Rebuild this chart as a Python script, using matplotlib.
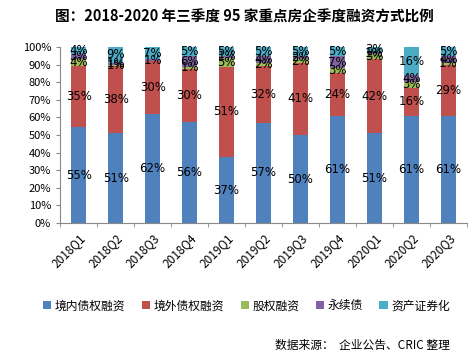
import numpy as np
import matplotlib
matplotlib.use("Agg")
import matplotlib.pyplot as plt

plt.rcParams["font.family"] = ["Noto Sans CJK SC", "DejaVu Sans"]

quarters = ["2018Q1", "2018Q2", "2018Q3", "2018Q4", "2019Q1", "2019Q2",
            "2019Q3", "2019Q4", "2020Q1", "2020Q2", "2020Q3"]
domestic = [55, 51, 62, 56, 37, 57, 50, 61, 51, 61, 61]
overseas = [35, 38, 30, 30, 51, 32, 41, 24, 42, 16, 29]
equity = [4, 1, 0, 1, 5, 2, 2, 3, 3, 3, 1]
perpetual = [3, 1, 1, 6, 1, 4, 2, 7, 1, 4, 4]
abs_sec = [4, 9, 7, 5, 5, 5, 5, 5, 3, 16, 5]
series_names = ["境内债权融资", "境外债权融资", "股权融资", "永续债", "资产证券化"]
COLORS = ["#4F81BD", "#C0504D", "#9BBB59", "#8064A2", "#4BACC6"]

data = np.array([domestic, overseas, equity, perpetual, abs_sec], dtype=float)
heights = data / data.sum(axis=0) * 100

fig = plt.figure(figsize=(4.74, 3.62), dpi=100)
ax = fig.add_axes([0.127, 0.384, 0.858, 0.486])
x = np.arange(len(quarters))
bottom = np.zeros(len(quarters))
for i, name in enumerate(series_names):
    ax.bar(x, heights[i], 0.4, bottom=bottom, color=COLORS[i], label=name)
    for j in range(len(quarters)):
        if data[i, j] > 0:
            ax.text(x[j], bottom[j] + heights[i, j] / 2, f"{int(data[i, j])}%",
                    ha="center", va="center", fontsize=8.5, color="black",
                    family=["DejaVu Sans"])
    bottom += heights[i]

ax.set_xlim(-0.5, len(quarters) - 0.5)
ax.set_ylim(0, 100)
ax.set_yticks(np.arange(0, 101, 10))
ax.set_yticklabels([f"{v}%" for v in range(0, 101, 10)], fontsize=8)
ax.set_xticks(x)
ax.set_xticks(np.arange(-0.5, len(quarters), 1), minor=True)
ax.set_xticklabels(quarters, rotation=45, ha="right", rotation_mode="anchor", fontsize=8.5)
ax.tick_params(axis="x", which="major", length=0, pad=6)
ax.tick_params(axis="x", which="minor", length=3, direction="out", color="#888888")
ax.tick_params(axis="y", length=3, direction="out", color="#888888")
ax.spines["top"].set_visible(False)
ax.spines["right"].set_visible(False)
ax.spines["left"].set_color("#888888")
ax.spines["bottom"].set_color("#888888")

fig.text(0.515, 0.955, "图：2018-2020 年三季度 95 家重点房企季度融资方式比例",
         ha="center", va="center", fontsize=10.5, fontweight="bold")
fig.legend(loc="center", bbox_to_anchor=(0.52, 0.155), ncol=5, frameon=False,
           fontsize=8.5, handlelength=0.7, handleheight=0.7, handletextpad=0.3,
           columnspacing=1.4)
fig.text(0.95, 0.045, "数据来源：  企业公告、CRIC 整理", ha="right", va="center", fontsize=8.5)

fig.savefig("out.png", dpi=100)
